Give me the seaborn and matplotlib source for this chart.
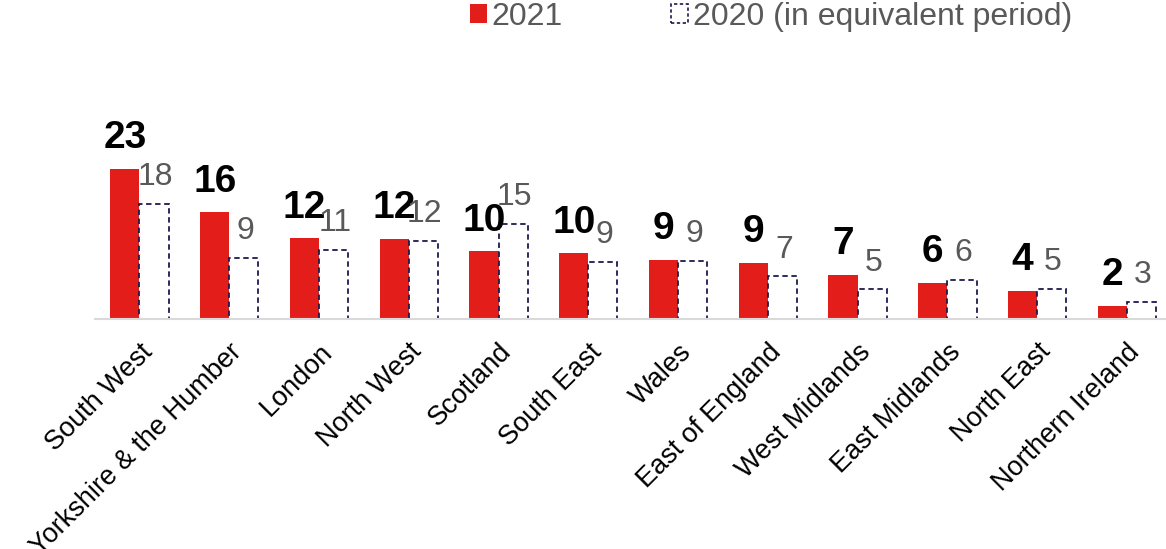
import pandas as pd
import matplotlib
matplotlib.use("Agg")
import matplotlib.pyplot as plt
import seaborn as sns
from matplotlib.patches import Patch

# data
regions = ['South West', 'Yorkshire & the Humber', 'London', 'North West', 'Scotland',
           'South East', 'Wales', 'East of England', 'West Midlands', 'East Midlands',
           'North East', 'Northern Ireland']
vals_2021 = [23.0, 16.4, 12.4, 12.3, 10.4, 10.1, 9.1, 8.7, 6.8, 5.6, 4.4, 2.0]
vals_2020 = [17.7, 9.4, 10.6, 12.0, 14.6, 8.8, 9.0, 6.6, 4.6, 6.1, 4.7, 2.7]
series = ['2021', '2020 (in equivalent period)']

sns.set_style("white")
plt.rcParams['font.family'] = ['Liberation Sans', 'DejaVu Sans']

df = pd.DataFrame({
    'region': regions * 2,
    'value': vals_2021 + vals_2020,
    'series': [series[0]] * len(regions) + [series[1]] * len(regions),
})

red = '#e31e1a'
navy = '#1c1a4e'

fig = plt.figure(figsize=(11.66, 5.49), dpi=100)
ax = fig.add_axes([0.0811, 0.4184, 0.920, 0.297])

sns.barplot(data=df, x='region', y='value', hue='series', palette=[red, 'white'],
            width=0.65, gap=0, ax=ax, legend=False, saturation=1)

# style the 2020 bars: white with dashed navy outline
for bar in ax.containers[1]:
    bar.set_edgecolor(navy)
    bar.set_linestyle((0, (3, 2)))
    bar.set_linewidth(1.3)
for bar in ax.containers[0]:
    bar.set_edgecolor('none')

# value labels
for bar, v in zip(ax.containers[0], vals_2021):
    ax.annotate(f'{round(v)}', (bar.get_x() + bar.get_width() / 2, bar.get_height()),
                xytext=(0, 15), textcoords='offset points', ha='center', va='baseline',
                fontsize=28, fontweight='bold', color='black', annotation_clip=False)
for bar, v in zip(ax.containers[1], vals_2020):
    ax.annotate(f'{round(v)}', (bar.get_x() + bar.get_width() / 2, bar.get_height()),
                xytext=(1, 13.5), textcoords='offset points', ha='center', va='baseline',
                fontsize=23, color='#595959', annotation_clip=False)

ax.set_xlim(-0.5, 11.45)
ax.set_ylim(0, 25)
ax.set_xlabel('')
ax.set_ylabel('')
ax.set_yticks([])
for s in ['top', 'right', 'left']:
    ax.spines[s].set_visible(False)
ax.spines['bottom'].set_color('#d9d9d9')
ax.spines['bottom'].set_linewidth(1.5)
ax.tick_params(axis='x', length=0, pad=14)
plt.setp(ax.get_xticklabels(), rotation=45, ha='right', va='top',
         rotation_mode='anchor', fontsize=19.5, color='black')

handles = [Patch(facecolor=red, edgecolor='none', label=series[0]),
           Patch(facecolor='white', edgecolor=navy, linestyle=(0, (2, 1.5)), linewidth=1.2,
                 label=series[1])]
fig.legend(handles=handles, loc='upper left', bbox_to_anchor=(470 / 1166, 1 - 2 / 549), ncol=2,
           frameon=False, fontsize=23, handlelength=0.52, handleheight=0.52,
           handletextpad=0.15, columnspacing=3.4, borderpad=0, borderaxespad=0,
           labelcolor='#595959')

fig.savefig('out.png', dpi=100)
